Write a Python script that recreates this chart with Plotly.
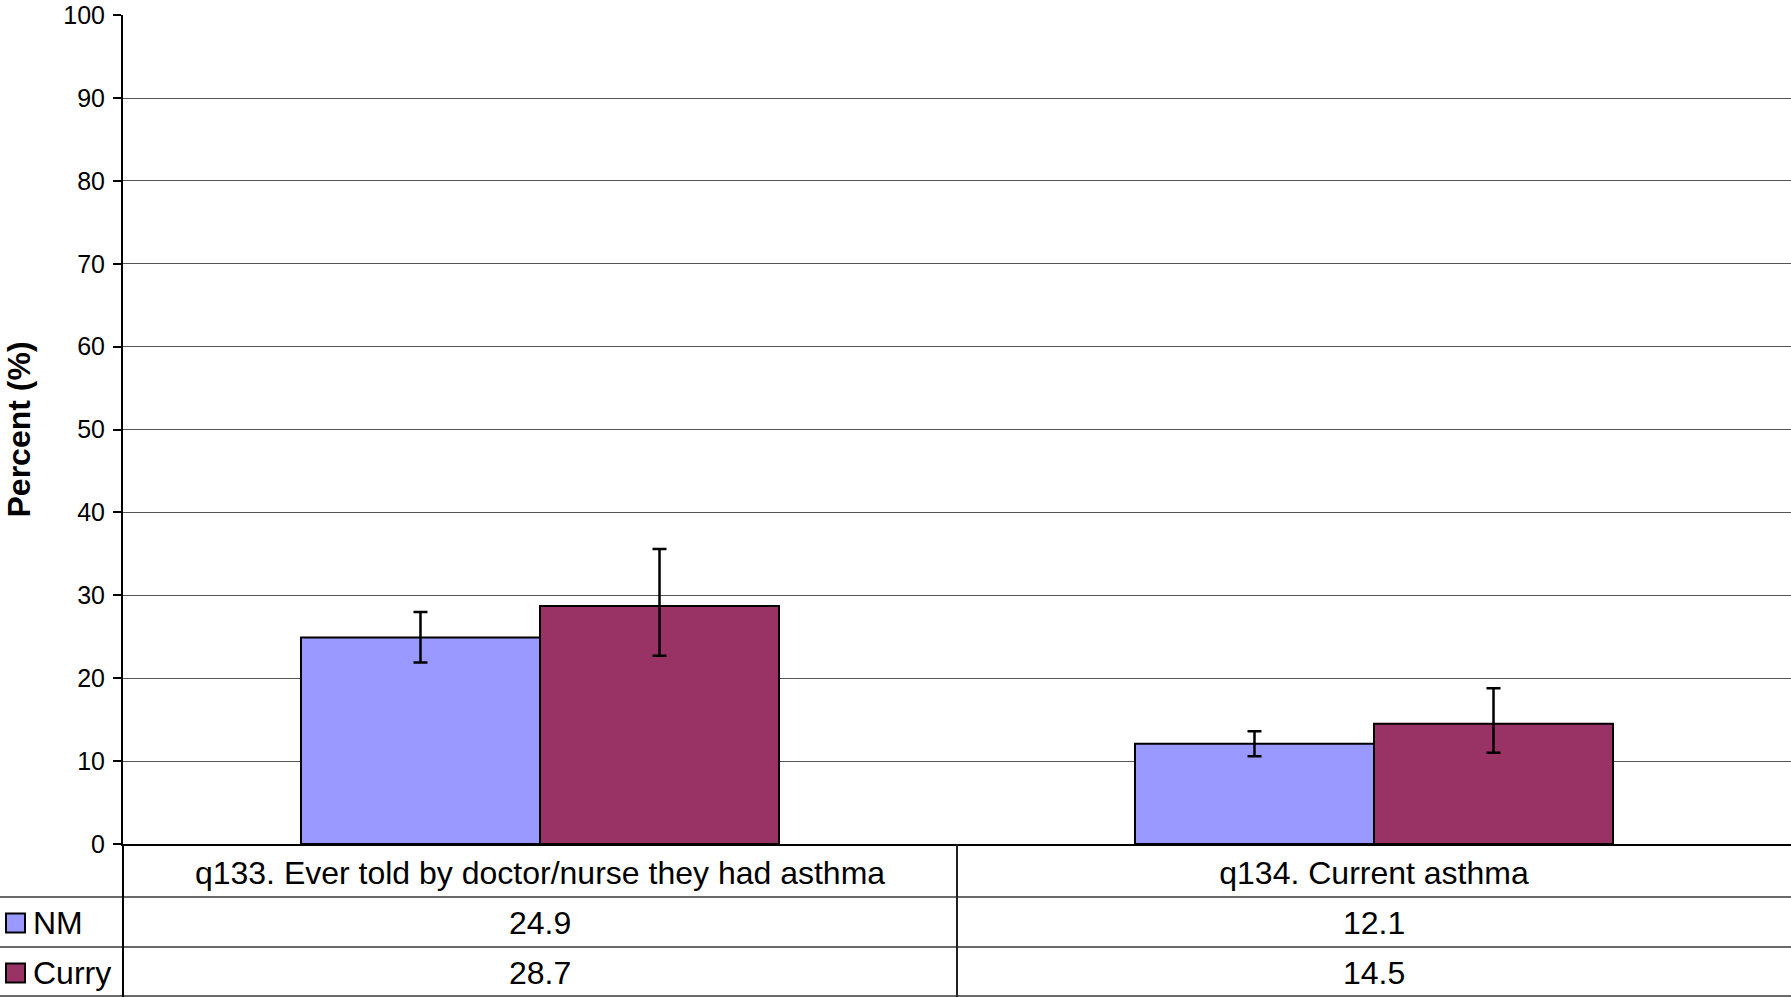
import plotly.graph_objects as go

# ---- data ----
categories = ["q133. Ever told by doctor/nurse they had asthma", "q134. Current asthma"]
series_names = ["NM", "Curry"]
nm_values = [24.9, 12.1]
curry_values = [28.7, 14.5]
nm_err_plus = [3.1, 1.5]
nm_err_minus = [3.0, 1.5]
curry_err_plus = [6.9, 4.3]
curry_err_minus = [6.0, 3.5]
y_ticks = [0, 10, 20, 30, 40, 50, 60, 70, 80, 90, 100]

colors = {"NM": "#9999FF", "Curry": "#993366"}
FONT = "Liberation Sans, Arial, sans-serif"

W, H = 1791, 997
ML, MR, MT, MB = 123, 0, 15, 153
PW, PH = W - ML - MR, H - MT - MB


def py(pix):
    """pixel y (from top of page) -> paper y"""
    return (H - MB - pix) / PH


def px(pix):
    return (pix - ML) / PW


fig = go.Figure()
series_vals = {"NM": (nm_values, nm_err_plus, nm_err_minus),
               "Curry": (curry_values, curry_err_plus, curry_err_minus)}
for name in series_names:
    vals, ep, em = series_vals[name]
    fig.add_trace(go.Bar(
        name=name, x=categories, y=vals,
        marker=dict(color=colors[name], line=dict(color="black", width=2)),
        error_y=dict(type="data", array=ep, arrayminus=em, visible=True,
                     color="black", thickness=2.5, width=7),
    ))

shapes = []
# table horizontal lines
for yp in [897, 947, 996]:
    shapes.append(dict(type="line", xref="paper", yref="paper",
                       x0=px(0), x1=1, y0=py(yp), y1=py(yp),
                       line=dict(color="#6a6a6a", width=2)))
# table vertical lines
shapes.append(dict(type="line", xref="paper", yref="paper",
                   x0=0, x1=0, y0=0, y1=py(H + 2), line=dict(color="black", width=2)))
shapes.append(dict(type="line", xref="x", yref="paper",
                   x0=0.5, x1=0.5, y0=0, y1=py(H + 2), line=dict(color="#222222", width=2)))

annotations = []
row_centers = {"NM": 923, "Curry": 973}
for name in series_names:
    vals = series_vals[name][0]
    yc = py(row_centers[name])
    for c, v in zip(categories, vals):
        annotations.append(dict(x=c, y=yc, xref="x", yref="paper", text=f"{v:.1f}",
                                showarrow=False, xanchor="center", yanchor="middle",
                                font=dict(family=FONT, size=32, color="black")))
    # legend key
    shapes.append(dict(type="rect", xref="paper", yref="paper",
                       x0=px(6), x1=px(25), y0=yc - 9.5 / PH, y1=yc + 9.5 / PH,
                       fillcolor=colors[name], line=dict(color="black", width=2)))
    annotations.append(dict(x=px(31), y=yc, xref="paper", yref="paper", text=name,
                            showarrow=False, xanchor="left", yanchor="middle",
                            font=dict(family=FONT, size=32, color="black")))

# y-axis title
annotations.append(dict(x=px(18), y=0.5, xref="paper", yref="paper", text="<b>Percent (%)</b>",
                        showarrow=False, textangle=-90, xanchor="center", yanchor="middle",
                        font=dict(family=FONT, size=32, color="black")))

fig.update_layout(
    width=W, height=H,
    margin=dict(l=ML, r=MR, t=MT, b=MB, pad=0),
    paper_bgcolor="white", plot_bgcolor="white",
    barmode="group", bargap=0.4268, bargroupgap=0,
    showlegend=False,
    shapes=shapes, annotations=annotations,
    font=dict(family=FONT, color="black"),
)
fig.update_yaxes(range=[0, 100.02], tickvals=y_ticks, ticks="outside", ticklen=8,
                 tickcolor="black", tickwidth=1.5,
                 tickfont=dict(family=FONT, size=25, color="black"),
                 ticklabeloverflow="allow", ticklabelstandoff=3,
                 showline=True, linecolor="black", linewidth=2,
                 showgrid=True, gridcolor="#555555", gridwidth=1.2,
                 zeroline=False, automargin=False)
fig.update_xaxes(showline=True, linecolor="black", linewidth=2, ticks="",
                 tickfont=dict(family=FONT, size=32, color="black"),
                 ticklabelstandoff=0, automargin=False)

fig.write_html("out.html", config={"displayModeBar": False},
               post_script="document.body.style.margin='0';document.body.style.overflow='hidden';")
